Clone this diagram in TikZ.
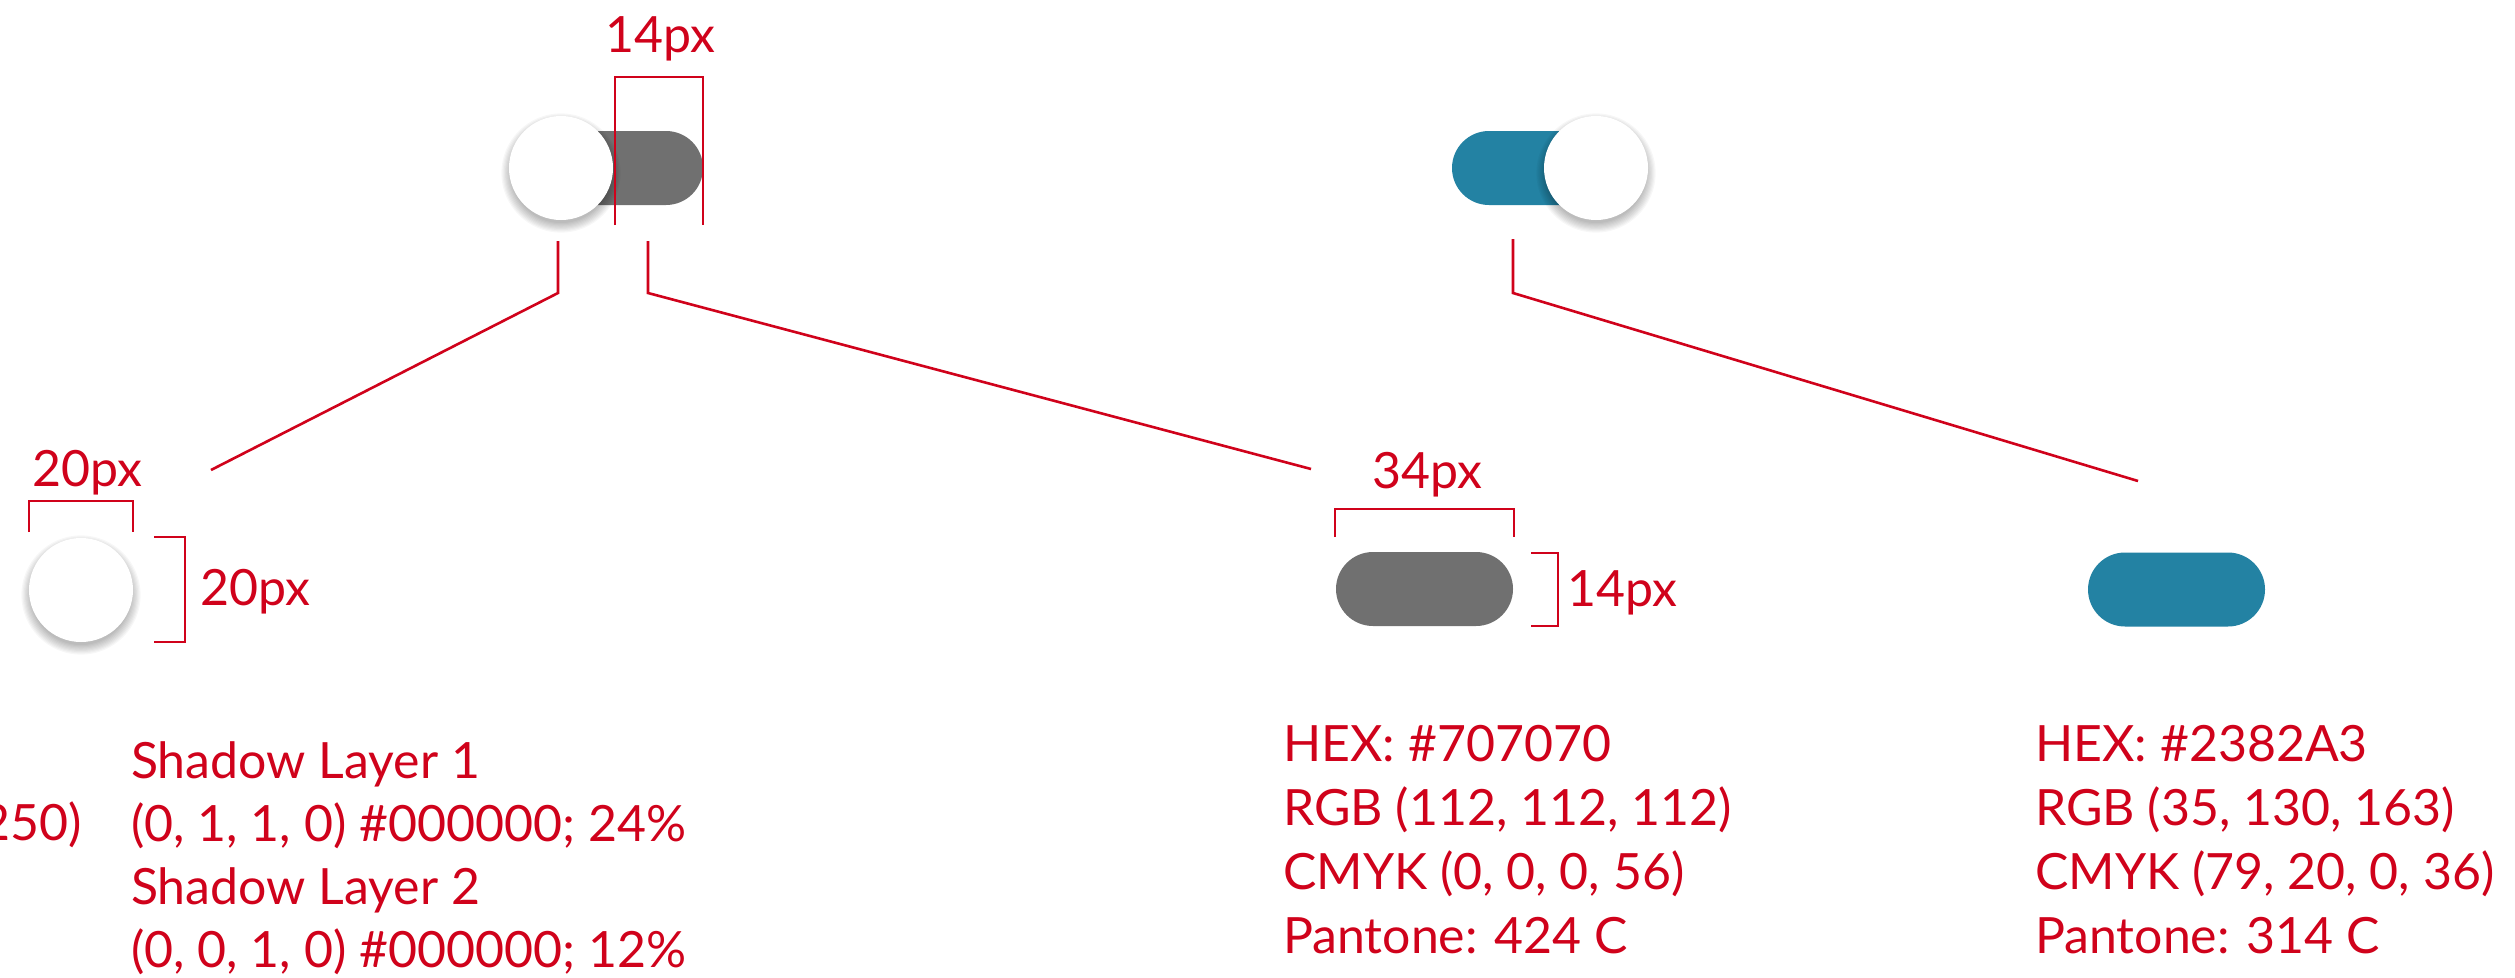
\documentclass[tikz,border=0pt]{standalone}
\usepackage{fontspec}
\setmainfont{Lato}
\definecolor{specred}{HTML}{D0021B}
\definecolor{trackgray}{HTML}{707070}
\definecolor{trackblue}{HTML}{2382A3}
\tikzset{
  redline/.style={draw=specred, line width=2.6pt},
  knob/.style={circle, fill=white, minimum size=104pt, inner sep=0pt},
  trackbox/.style={rectangle, rounded corners=37pt, minimum width=177pt, minimum height=74pt, inner sep=0pt},
  dimlabel/.style={text=specred, font=\fontsize{50}{60}\selectfont, inner sep=0pt},
  infotext/.style={text=specred, font=\fontsize{50}{64}\selectfont, inner sep=0pt, anchor=base west},
}
\newcommand{\knobshadow}[2]{%
  \foreach \k in {0,...,8}{\fill[black, opacity=0.03] (#1,#2+5) circle ({50+\k*1.2});}%
}
\begin{document}
\begin{tikzpicture}[x=1pt, y=-1pt]
\path[use as bounding box] (0,0) rectangle (2515,977);
\clip (0,0) rectangle (2515,977);
\fill[white] (0,0) rectangle (2515,977);

% ---- top left toggle (off) ----
\node[trackbox, fill=trackgray] (trackA) at (614.5,168) {};
\knobshadow{561}{168}
\node[knob] (knobA) at (561,168) {};
\draw[redline] (615,225) -- (615,77) -- (703,77) -- (703,225);
\node[dimlabel, anchor=base] (lblA) at (660,52) {14px};

% ---- top right toggle (on) ----
\node[trackbox, fill=trackblue] (trackB) at (1540.5,168) {};
\knobshadow{1596}{168}
\node[knob] (knobB) at (1596,168) {};

% ---- connectors ----
\coordinate (c1a) at (558,241); \coordinate (c1b) at (558,293); \coordinate (c1c) at (211,470);
\coordinate (c2a) at (648,241); \coordinate (c2b) at (648,293); \coordinate (c2c) at (1311,469);
\coordinate (c3a) at (1513,239); \coordinate (c3b) at (1513,293); \coordinate (c3c) at (2138,481);
\draw[redline] (c1a) -- (c1b) -- (c1c);
\draw[redline] (c2a) -- (c2b) -- (c2c);
\draw[redline] (c3a) -- (c3b) -- (c3c);

% ---- bottom knob ----
\knobshadow{81}{590}
\node[knob] (knobC) at (81,590) {};
\draw[redline] (29,532) -- (29,501) -- (133,501) -- (133,532);
\node[dimlabel, anchor=base] (lblC1) at (87,486) {20px};
\draw[redline] (154,537) -- (185,537) -- (185,642) -- (154,642);
\node[dimlabel, anchor=base west] (lblC2) at (200,605) {20px};

% ---- bottom gray track ----
\node[trackbox, fill=trackgray] (trackC) at (1424.5,589) {};
\draw[redline] (1335,537) -- (1335,509) -- (1514,509) -- (1514,537);
\node[dimlabel, anchor=base] (lblD1) at (1427,488) {34px};
\draw[redline] (1531,553) -- (1558,553) -- (1558,626) -- (1531,626);
\node[dimlabel, anchor=base west] (lblD2) at (1567,606) {14px};

% ---- bottom blue track ----
\node[trackbox, fill=trackblue] (trackD) at (2176.5,589.5) {};

% ---- texts ----
\node[infotext, anchor=base east] (wR) at (82,840) {(250, 250, 250)};
\node[infotext] (w1) at (131,778) {Shadow Layer 1};
\node[infotext] (w2) at (131,841) {(0, 1, 1, 0) \#000000; 24\%};
\node[infotext] (w3) at (131,904) {Shadow Layer 2};
\node[infotext] (w4) at (131,967) {(0, 0, 1, 0) \#000000; 12\%};

\node[infotext] (g1) at (1283,761) {HEX: \#707070};
\node[infotext] (g2) at (1283,825) {RGB (112, 112, 112)};
\node[infotext] (g3) at (1283,889) {CMYK (0, 0, 0, 56)};
\node[infotext] (g4) at (1283,953) {Pantone: 424 C};

\node[infotext] (b1) at (2035,761) {HEX: \#2382A3};
\node[infotext] (b2) at (2035,825) {RGB (35, 130, 163)};
\node[infotext] (b3) at (2035,889) {CMYK (79, 20, 0, 36)};
\node[infotext] (b4) at (2035,953) {Pantone: 314 C};
\end{tikzpicture}
\end{document}
